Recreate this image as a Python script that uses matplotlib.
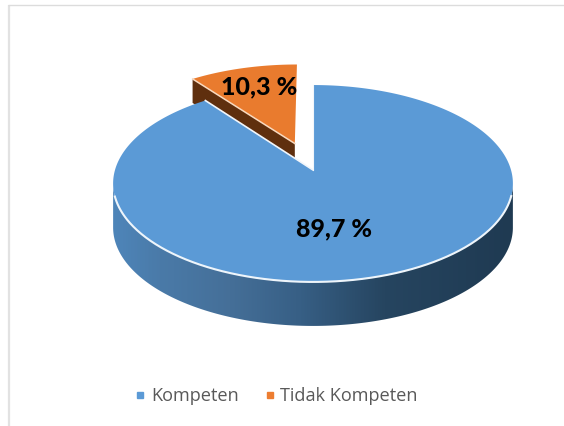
import numpy as np
import matplotlib
matplotlib.use("Agg")
import matplotlib.pyplot as plt
from matplotlib.colors import LinearSegmentedColormap
from matplotlib.lines import Line2D
from matplotlib.patches import Polygon

categories = ["Kompeten", "Tidak Kompeten"]
values = [89.7, 10.3]
value_labels = ["89,7 %", "10,3 %"]

W, H = 564, 426
fig = plt.figure(figsize=(W / 100, H / 100), dpi=100, facecolor="white")
ax = fig.add_axes([0, 0, 1, 1])
ax.set_xlim(0, W)
ax.set_ylim(H, 0)
ax.axis("off")

# chart frame
ax.plot([8.8, 8.8], [5, H], color="#e2e2e2", lw=1.6, solid_capstyle="butt", zorder=0)
ax.plot([8, W], [5.3, 5.3], color="#dcdcdc", lw=1.0, solid_capstyle="butt", zorder=0)

# perspective projection of the unit pie plane
CX, CY, RX, RY, PERSP = 313.0, 170.0, 198.0, 96.6, 0.137
BLUE_DEPTH, ORANGE_DEPTH = 44.0, 24.0
EXPLODE = 0.30


def project(u, v):
    w = 1 + PERSP * v
    return CX + RX * u / w, CY - RY * v / w


def wedge(a0, a1, du=0.0, dv=0.0, n=240):
    t = np.radians(np.linspace(a0, a1, n))
    return np.sin(t) + du, np.cos(t) + dv


total = sum(values)
end_blue = 360 * values[0] / total
mid_orange = np.radians((end_blue + 360) / 2)
du, dv = EXPLODE * np.sin(mid_orange), EXPLODE * np.cos(mid_orange)

# orange slice
ou, ov = wedge(end_blue, 360, du, dv, 80)
ox, oy = project(ou, ov)
oax, oay = project(du, dv)
left = (ox[0], oy[0])
ax.add_patch(Polygon([left, (oax, oay), (oax, oay + ORANGE_DEPTH), (left[0], left[1] + ORANGE_DEPTH)],
                     closed=True, fc="#5f2f0e", ec="none", zorder=2))
ax.add_patch(Polygon(np.r_[[[oax, oay]], np.c_[ox, oy]], closed=True, fc="#e97b2e", ec="none", zorder=3))
ax.plot([left[0], oax], [left[1], oay], color="#f8d9bf", lw=1.1, zorder=3.5)

# blue side with horizontal shading
bu, bv = wedge(0, end_blue, n=720)
bx, by = project(bu, bv)
i0, i1 = np.argmax(bx), np.argmin(bx)
top_arc = np.c_[bx[i0:i1 + 1], by[i0:i1 + 1]]
bottom_arc = top_arc[::-1] + [0, BLUE_DEPTH]
side = Polygon(np.r_[top_arc, bottom_arc], closed=True, fc="none", ec="none", transform=ax.transData)
ax.add_patch(side)
stops = [(113, "#4e85b9"), (160, "#4a7aa8"), (230, "#456f98"), (300, "#375f85"), (385, "#264560"), (513, "#1f3a52")]
cmap = LinearSegmentedColormap.from_list("side", [((x - 113) / 400, c) for x, c in stops])
im = ax.imshow(np.linspace(0, 1, 400)[None, :], extent=[113, 513, 340, 170], cmap=cmap,
               aspect="auto", zorder=4, interpolation="bilinear")
im.set_clip_path(side)
ax.set_xlim(0, W)
ax.set_ylim(H, 0)

# blue top
ax.add_patch(Polygon(np.r_[[[CX, CY]], np.c_[bx, by]], closed=True, fc="#5b9ad6", ec="none", zorder=5))
rim = top_arc[top_arc[:, 1] > 196]
ax.plot(rim[:, 0], rim[:, 1], color="#eef5fb", lw=1.5, zorder=6)
ax.plot([bx[-1], CX], [by[-1], CY], color="#f2f6fb", lw=1.2, zorder=6)
ax.plot([CX, CX], [CY, by[0]], color="#f2f6fb", lw=0.8, zorder=6)

# value labels
ax.text(333.5, 229, value_labels[0], ha="center", va="center", fontsize=18, fontweight="black",
        family="Lato", color="black", zorder=8)
ax.text(259.5, 87, value_labels[1], ha="center", va="center", fontsize=18, fontweight="black",
        family="Lato", color="black", zorder=8)

# legend
handles = [Line2D([], [], ls="none", marker="s", ms=5, color=c) for c in ("#5b9ad6", "#ed7d31")]
ax.legend(handles, categories, ncol=2, loc="center", bbox_to_anchor=(273.5 / W, 1 - 396 / H),
          bbox_transform=ax.transAxes, frameon=False, labelcolor="#595959",
          prop={"family": "Open Sans", "size": 13.1}, handletextpad=0.0, columnspacing=1.1, handlelength=1.2)

fig.savefig("out.png", dpi=100)
